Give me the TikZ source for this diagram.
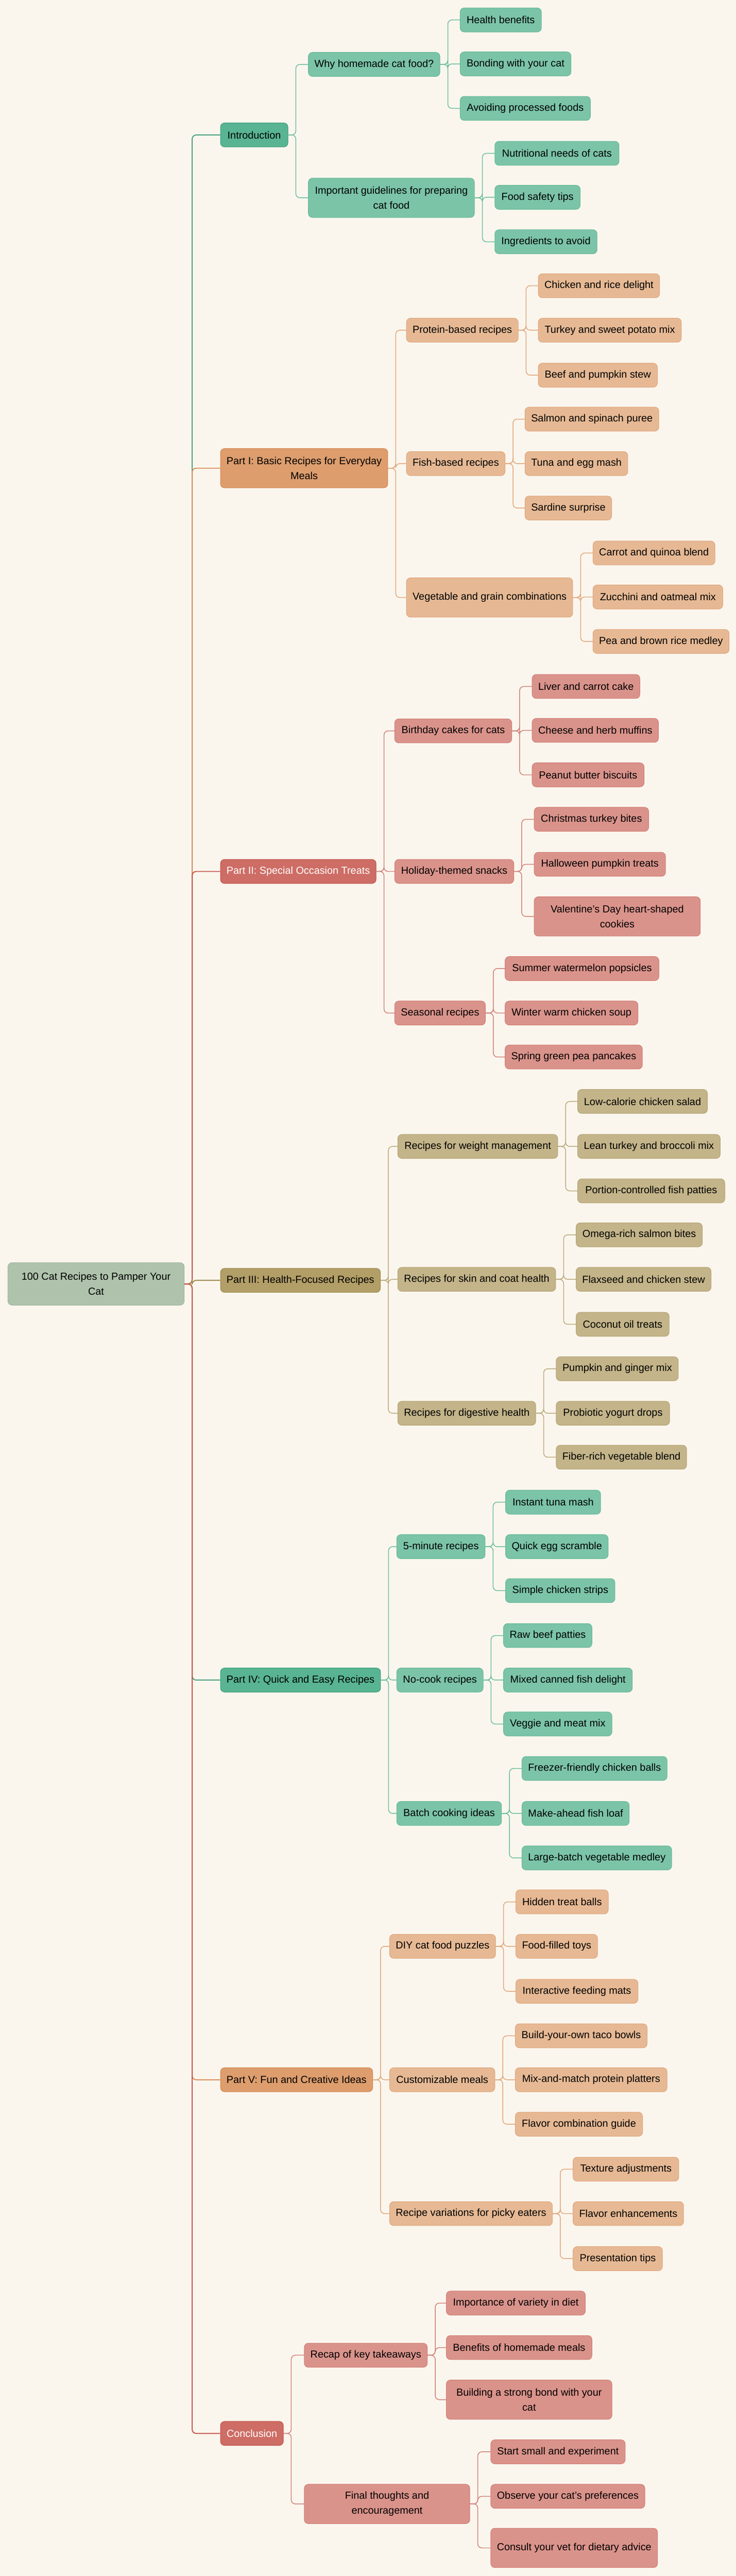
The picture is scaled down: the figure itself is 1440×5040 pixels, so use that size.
\documentclass[tikz,border=0pt]{standalone}
\usepackage{fontspec}
\setmainfont{Liberation Sans}

\definecolor{bgcol}{HTML}{FAF6EE}
\definecolor{rootfill}{HTML}{AFC3AC}
\definecolor{rootline}{HTML}{9DB59A}
\definecolor{grnA}{HTML}{58B492}
\definecolor{grnAd}{HTML}{409C7A}
\definecolor{grnB}{HTML}{7BC4A8}
\definecolor{grnBd}{HTML}{66B996}
\definecolor{grnT}{HTML}{4FA383}
\definecolor{grnL}{HTML}{6BBE9D}
\definecolor{orgA}{HTML}{DD9D6D}
\definecolor{orgAd}{HTML}{D6874F}
\definecolor{orgB}{HTML}{E6B994}
\definecolor{orgBd}{HTML}{E0A47A}
\definecolor{orgT}{HTML}{DB8F5A}
\definecolor{orgL}{HTML}{E2A679}
\definecolor{redA}{HTML}{CD6D65}
\definecolor{redAd}{HTML}{C24F47}
\definecolor{redB}{HTML}{DA938B}
\definecolor{redBd}{HTML}{D27C73}
\definecolor{redT}{HTML}{C8574F}
\definecolor{redL}{HTML}{D27F77}
\definecolor{gldA}{HTML}{B29E67}
\definecolor{gldAd}{HTML}{9F8A4C}
\definecolor{gldB}{HTML}{C3B489}
\definecolor{gldBd}{HTML}{B6A473}
\definecolor{gldT}{HTML}{A38F52}
\definecolor{gldL}{HTML}{BBAA7B}

\tikzset{
  box/.style={draw, rounded corners=4pt, line width=0.5pt, anchor=west, align=center,
    minimum height=23.5pt, inner xsep=6pt, inner ysep=2pt, text=black,
    font=\fontsize{10pt}{14.7pt}\selectfont},
  tall/.style={minimum height=38.5pt},
  wd/.style={minimum width={#1*0.5pt}},
  rootbox/.style={box, fill=rootfill, draw=rootline, minimum height=41.5pt},
  greenA/.style={box, fill=grnA, draw=grnAd},
  greenB/.style={box, fill=grnB, draw=grnBd},
  orangeA/.style={box, fill=orgA, draw=orgAd},
  orangeB/.style={box, fill=orgB, draw=orgBd},
  redAbox/.style={box, fill=redA, draw=redAd, text=white},
  redBbox/.style={box, fill=redB, draw=redBd},
  goldA/.style={box, fill=gldA, draw=gldAd},
  goldB/.style={box, fill=gldB, draw=gldBd},
  trunk/.style={rounded corners=4pt, line width=1pt, draw=#1},
  link/.style={rounded corners=4pt, line width=0.75pt, draw=#1},
}

\begin{document}
\begin{tikzpicture}[x=0.5pt,y=-0.5pt]

    \fill[bgcol] (0,0) rectangle (1440,5040);
    \useasboundingbox (0,0) rectangle (1440,5040);

    \node[rootbox, wd=345] (root) at (15,2512) {100 Cat Recipes to Pamper Your\\Cat};

    \node[greenA, wd=132] (intro) at (431,264) {Introduction};
    \node[orangeA, wd=324, tall] (part1) at (431,916) {Part I: Basic Recipes for Everyday\\Meals};
    \node[redAbox, wd=301] (part2) at (431,1705) {Part II: Special Occasion Treats};
    \node[goldA, wd=307] (part3) at (431,2505) {Part III: Health-Focused Recipes};
    \node[greenA, wd=305] (part4) at (431,3287) {Part IV: Quick and Easy Recipes};
    \node[orangeA, wd=291] (part5) at (431,4069) {Part V: Fun and Creative Ideas};
    \node[redAbox, wd=123] (concl) at (431,4761) {Conclusion};

    \node[greenB, wd=257] (why) at (603,126) {Why homemade cat food?};
    \node[greenB, wd=325, tall] (guide) at (603,387) {Important guidelines for preparing\\cat food};
    \node[greenB, wd=159] (health) at (900,39) {Health benefits};
    \node[greenB, wd=217] (bonding) at (900,125) {Bonding with your cat};
    \node[greenB, wd=255] (avoid) at (900,212) {Avoiding processed foods};
    \node[greenB, wd=243] (nutri) at (968,300) {Nutritional needs of cats};
    \node[greenB, wd=167] (safety) at (968,386) {Food safety tips};
    \node[greenB, wd=200] (ingred) at (968,473) {Ingredients to avoid};

    \node[orangeB, wd=218] (protein) at (795,646) {Protein-based recipes};
    \node[orangeB, wd=192] (fish) at (795,907) {Fish-based recipes};
    \node[orangeB, wd=325, tall] (veg) at (795,1169) {Vegetable and grain combinations};
    \node[orangeB, wd=237] (chicken) at (1053,559) {Chicken and rice delight};
    \node[orangeB, wd=280] (turkey) at (1053,646) {Turkey and sweet potato mix};
    \node[orangeB, wd=233] (beef) at (1053,734) {Beef and pumpkin stew};
    \node[orangeB, wd=260] (salmon) at (1027,820) {Salmon and spinach puree};
    \node[orangeB, wd=199] (tuna) at (1027,907) {Tuna and egg mash};
    \node[orangeB, wd=168] (sardine) at (1027,994) {Sardine surprise};
    \node[orangeB, wd=238] (carrot) at (1160,1082) {Carrot and quinoa blend};
    \node[orangeB, wd=254] (zucchini) at (1160,1168) {Zucchini and oatmeal mix};
    \node[orangeB, wd=264] (pea) at (1160,1255) {Pea and brown rice medley};

    \node[redBbox, wd=229] (bday) at (772,1430) {Birthday cakes for cats};
    \node[redBbox, wd=233] (holiday) at (772,1705) {Holiday-themed snacks};
    \node[redBbox, wd=176] (seasonal) at (772,1982) {Seasonal recipes};
    \node[redBbox, wd=210] (liver) at (1041,1343) {Liver and carrot cake};
    \node[redBbox, wd=245] (cheese) at (1041,1429) {Cheese and herb muffins};
    \node[redBbox, wd=219] (peanut) at (1041,1516) {Peanut butter biscuits};
    \node[redBbox, wd=224] (xmas) at (1045,1603) {Christmas turkey bites};
    \node[redBbox, wd=257] (halloween) at (1045,1691) {Halloween pumpkin treats};
    \node[redBbox, wd=325, tall] (valentine) at (1045,1793) {Valentine's Day heart-shaped\\cookies};
    \node[redBbox, wd=301] (summer) at (988,1895) {Summer watermelon popsicles};
    \node[redBbox, wd=260] (winter) at (988,1982) {Winter warm chicken soup};
    \node[redBbox, wd=265] (spring) at (988,2068) {Spring green pea pancakes};

    \node[goldB, wd=313] (weight) at (778,2243) {Recipes for weight management};
    \node[goldB, wd=309] (skin) at (778,2503) {Recipes for skin and coat health};
    \node[goldB, wd=270] (digest) at (778,2765) {Recipes for digestive health};
    \node[goldB, wd=254] (lowcal) at (1130,2155) {Low-calorie chicken salad};
    \node[goldB, wd=279] (lean) at (1130,2243) {Lean turkey and broccoli mix};
    \node[goldB, wd=288] (portion) at (1130,2330) {Portion-controlled fish patties};
    \node[goldB, wd=247] (omega) at (1127,2416) {Omega-rich salmon bites};
    \node[goldB, wd=263] (flax) at (1127,2503) {Flaxseed and chicken stew};
    \node[goldB, wd=182] (coconut) at (1127,2591) {Coconut oil treats};
    \node[goldB, wd=239] (pumpkin) at (1088,2678) {Pumpkin and ginger mix};
    \node[goldB, wd=222] (probiotic) at (1088,2765) {Probiotic yogurt drops};
    \node[goldB, wd=253] (fiber) at (1088,2851) {Fiber-rich vegetable blend};

    \node[greenB, wd=173] (fivemin) at (776,3026) {5-minute recipes};
    \node[greenB, wd=169] (nocook) at (776,3287) {No-cook recipes};
    \node[greenB, wd=205] (batch) at (776,3548) {Batch cooking ideas};
    \node[greenB, wd=186] (instant) at (989,2939) {Instant tuna mash};
    \node[greenB, wd=200] (quick) at (989,3026) {Quick egg scramble};
    \node[greenB, wd=214] (simple) at (989,3112) {Simple chicken strips};
    \node[greenB, wd=173] (raw) at (985,3200) {Raw beef patties};
    \node[greenB, wd=252] (mixed) at (985,3287) {Mixed canned fish delight};
    \node[greenB, wd=212] (veggie) at (985,3373) {Veggie and meat mix};
    \node[greenB, wd=282] (freezer) at (1021,3460) {Freezer-friendly chicken balls};
    \node[greenB, wd=210] (makeahead) at (1021,3548) {Make-ahead fish loaf};
    \node[greenB, wd=290] (largebatch) at (1021,3635) {Large-batch vegetable medley};

    \node[orangeB, wd=207] (diy) at (762,3808) {DIY cat food puzzles};
    \node[orangeB, wd=206] (custom) at (762,4069) {Customizable meals};
    \node[orangeB, wd=318] (picky) at (762,4331) {Recipe variations for picky eaters};
    \node[orangeB, wd=181] (hidden) at (1009,3721) {Hidden treat balls};
    \node[orangeB, wd=160] (filled) at (1009,3808) {Food-filled toys};
    \node[orangeB, wd=239] (interactive) at (1009,3896) {Interactive feeding mats};
    \node[orangeB, wd=258] (taco) at (1008,3983) {Build-your-own taco bowls};
    \node[orangeB, wd=297] (mixmatch) at (1008,4069) {Mix-and-match protein platters};
    \node[orangeB, wd=249] (flavor) at (1008,4156) {Flavor combination guide};
    \node[orangeB, wd=207] (texture) at (1121,4244) {Texture adjustments};
    \node[orangeB, wd=215] (flavorenh) at (1121,4331) {Flavor enhancements};
    \node[orangeB, wd=175] (present) at (1121,4419) {Presentation tips};

    \node[redBbox, wd=237] (recap) at (595,4608) {Recap of key takeaways};
    \node[redBbox, wd=324, tall] (final) at (595,4899) {Final thoughts and\\encouragement};
    \node[redBbox, wd=272] (variety) at (873,4506) {Importance of variety in diet};
    \node[redBbox, wd=285] (benefits) at (873,4593) {Benefits of homemade meals};
    \node[redBbox, wd=324, tall] (bond) at (873,4695) {Building a strong bond with your\\cat};
    \node[redBbox, wd=263] (start) at (960,4797) {Start small and experiment};
    \node[redBbox, wd=296] (observe) at (960,4884) {Observe your cat's preferences};
    \node[redBbox, wd=323, tall] (consult) at (960,4985) {Consult your vet for dietary advice};

    \draw[trunk=grnT] (root.east) -- ++(15,0) |- (intro.west);
    \draw[trunk=orgT] (root.east) -- ++(15,0) |- (part1.west);
    \draw[trunk=redT] (root.east) -- ++(15,0) |- (part2.west);
    \draw[trunk=gldT] (root.east) -- ++(15,0) |- (part3.west);
    \draw[trunk=grnT] (root.east) -- ++(15,0) |- (part4.west);
    \draw[trunk=orgT] (root.east) -- ++(15,0) |- (part5.west);
    \draw[trunk=redT] (root.east) -- ++(15,0) |- (concl.west);

    \draw[link=grnL] (intro.east) -- ++(15,0) |- (why.west);
    \draw[link=grnL] (intro.east) -- ++(15,0) |- (guide.west);
    \draw[link=grnL] (why.east) -- ++(15,0) |- (health.west);
    \draw[link=grnL] (why.east) -- ++(15,0) |- (bonding.west);
    \draw[link=grnL] (why.east) -- ++(15,0) |- (avoid.west);
    \draw[link=grnL] (guide.east) -- ++(15,0) |- (nutri.west);
    \draw[link=grnL] (guide.east) -- ++(15,0) |- (safety.west);
    \draw[link=grnL] (guide.east) -- ++(15,0) |- (ingred.west);

    \draw[link=orgL] (part1.east) -- ++(15,0) |- (protein.west);
    \draw[link=orgL] (part1.east) -- ++(15,0) |- (fish.west);
    \draw[link=orgL] (part1.east) -- ++(15,0) |- (veg.west);
    \draw[link=orgL] (protein.east) -- ++(15,0) |- (chicken.west);
    \draw[link=orgL] (protein.east) -- ++(15,0) |- (turkey.west);
    \draw[link=orgL] (protein.east) -- ++(15,0) |- (beef.west);
    \draw[link=orgL] (fish.east) -- ++(15,0) |- (salmon.west);
    \draw[link=orgL] (fish.east) -- ++(15,0) |- (tuna.west);
    \draw[link=orgL] (fish.east) -- ++(15,0) |- (sardine.west);
    \draw[link=orgL] (veg.east) -- ++(15,0) |- (carrot.west);
    \draw[link=orgL] (veg.east) -- ++(15,0) |- (zucchini.west);
    \draw[link=orgL] (veg.east) -- ++(15,0) |- (pea.west);

    \draw[link=redL] (part2.east) -- ++(15,0) |- (bday.west);
    \draw[link=redL] (part2.east) -- ++(15,0) |- (holiday.west);
    \draw[link=redL] (part2.east) -- ++(15,0) |- (seasonal.west);
    \draw[link=redL] (bday.east) -- ++(15,0) |- (liver.west);
    \draw[link=redL] (bday.east) -- ++(15,0) |- (cheese.west);
    \draw[link=redL] (bday.east) -- ++(15,0) |- (peanut.west);
    \draw[link=redL] (holiday.east) -- ++(15,0) |- (xmas.west);
    \draw[link=redL] (holiday.east) -- ++(15,0) |- (halloween.west);
    \draw[link=redL] (holiday.east) -- ++(15,0) |- (valentine.west);
    \draw[link=redL] (seasonal.east) -- ++(15,0) |- (summer.west);
    \draw[link=redL] (seasonal.east) -- ++(15,0) |- (winter.west);
    \draw[link=redL] (seasonal.east) -- ++(15,0) |- (spring.west);

    \draw[link=gldL] (part3.east) -- ++(15,0) |- (weight.west);
    \draw[link=gldL] (part3.east) -- ++(15,0) |- (skin.west);
    \draw[link=gldL] (part3.east) -- ++(15,0) |- (digest.west);
    \draw[link=gldL] (weight.east) -- ++(15,0) |- (lowcal.west);
    \draw[link=gldL] (weight.east) -- ++(15,0) |- (lean.west);
    \draw[link=gldL] (weight.east) -- ++(15,0) |- (portion.west);
    \draw[link=gldL] (skin.east) -- ++(15,0) |- (omega.west);
    \draw[link=gldL] (skin.east) -- ++(15,0) |- (flax.west);
    \draw[link=gldL] (skin.east) -- ++(15,0) |- (coconut.west);
    \draw[link=gldL] (digest.east) -- ++(15,0) |- (pumpkin.west);
    \draw[link=gldL] (digest.east) -- ++(15,0) |- (probiotic.west);
    \draw[link=gldL] (digest.east) -- ++(15,0) |- (fiber.west);

    \draw[link=grnL] (part4.east) -- ++(15,0) |- (fivemin.west);
    \draw[link=grnL] (part4.east) -- ++(15,0) |- (nocook.west);
    \draw[link=grnL] (part4.east) -- ++(15,0) |- (batch.west);
    \draw[link=grnL] (fivemin.east) -- ++(15,0) |- (instant.west);
    \draw[link=grnL] (fivemin.east) -- ++(15,0) |- (quick.west);
    \draw[link=grnL] (fivemin.east) -- ++(15,0) |- (simple.west);
    \draw[link=grnL] (nocook.east) -- ++(15,0) |- (raw.west);
    \draw[link=grnL] (nocook.east) -- ++(15,0) |- (mixed.west);
    \draw[link=grnL] (nocook.east) -- ++(15,0) |- (veggie.west);
    \draw[link=grnL] (batch.east) -- ++(15,0) |- (freezer.west);
    \draw[link=grnL] (batch.east) -- ++(15,0) |- (makeahead.west);
    \draw[link=grnL] (batch.east) -- ++(15,0) |- (largebatch.west);

    \draw[link=orgL] (part5.east) -- ++(15,0) |- (diy.west);
    \draw[link=orgL] (part5.east) -- ++(15,0) |- (custom.west);
    \draw[link=orgL] (part5.east) -- ++(15,0) |- (picky.west);
    \draw[link=orgL] (diy.east) -- ++(15,0) |- (hidden.west);
    \draw[link=orgL] (diy.east) -- ++(15,0) |- (filled.west);
    \draw[link=orgL] (diy.east) -- ++(15,0) |- (interactive.west);
    \draw[link=orgL] (custom.east) -- ++(15,0) |- (taco.west);
    \draw[link=orgL] (custom.east) -- ++(15,0) |- (mixmatch.west);
    \draw[link=orgL] (custom.east) -- ++(15,0) |- (flavor.west);
    \draw[link=orgL] (picky.east) -- ++(15,0) |- (texture.west);
    \draw[link=orgL] (picky.east) -- ++(15,0) |- (flavorenh.west);
    \draw[link=orgL] (picky.east) -- ++(15,0) |- (present.west);

    \draw[link=redL] (concl.east) -- ++(15,0) |- (recap.west);
    \draw[link=redL] (concl.east) -- ++(15,0) |- (final.west);
    \draw[link=redL] (recap.east) -- ++(15,0) |- (variety.west);
    \draw[link=redL] (recap.east) -- ++(15,0) |- (benefits.west);
    \draw[link=redL] (recap.east) -- ++(15,0) |- (bond.west);
    \draw[link=redL] (final.east) -- ++(15,0) |- (start.west);
    \draw[link=redL] (final.east) -- ++(15,0) |- (observe.west);
    \draw[link=redL] (final.east) -- ++(15,0) |- (consult.west);

\end{tikzpicture}
\end{document}
